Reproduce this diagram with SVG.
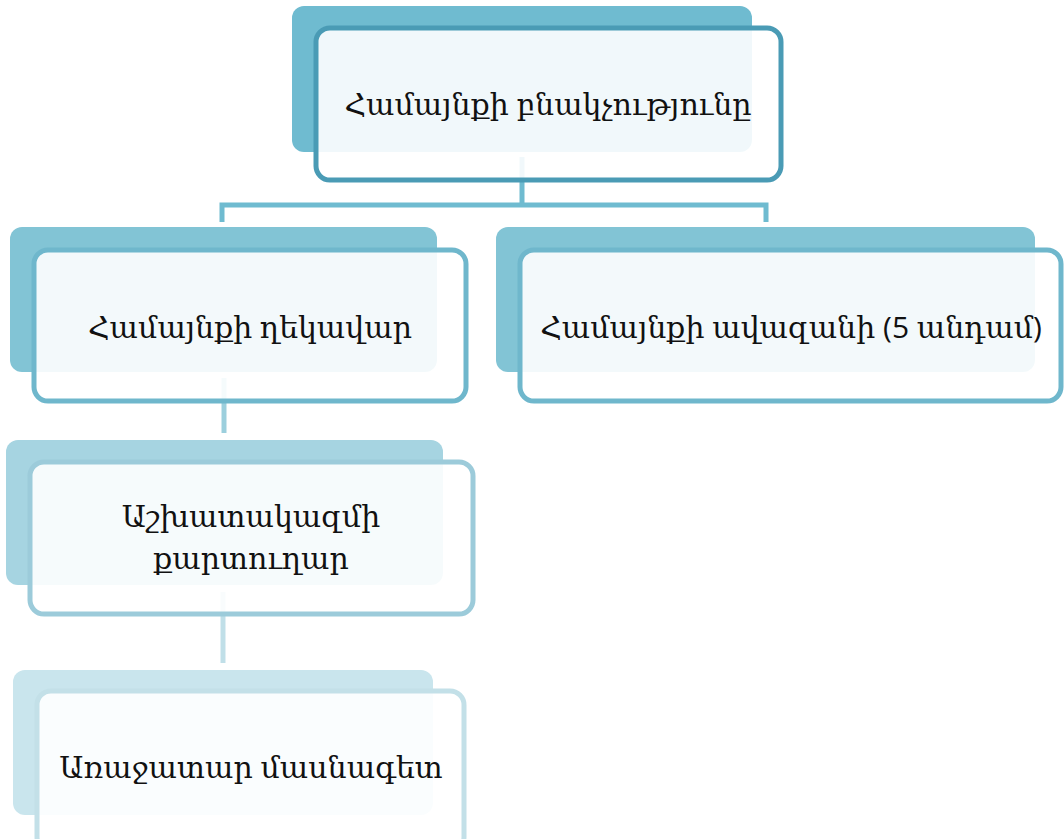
<svg xmlns="http://www.w3.org/2000/svg" width="1064" height="839" viewBox="0 0 1064 839">
<style>
.front{fill:#ffffff;fill-opacity:0.9;stroke-width:5}
.t{font-family:"Open Sans","DejaVu Serif",serif;font-size:30px;fill:#111;text-anchor:middle}
.c{fill:none;stroke-width:5}
</style>
<rect width="1064" height="839" fill="#ffffff"/>
<g id="connectors">
<path class="c" d="M522 157 V205 M222 222 V205 H766 V222" stroke="#6fbbd0"/>
<path class="c" d="M224 378 V433" stroke="#9ccfdd"/>
<path class="c" d="M223 592 V663" stroke="#c0dfe8"/>
</g>
<g id="n1">
<rect x="292" y="6" width="460" height="146" rx="12" fill="#6fbbd0"/>
<rect class="front" x="316" y="28" width="465" height="152" rx="14" stroke="#4a9bb5"/>
<text class="t" x="548" y="115">Համայնքի բնակչությունը</text>
</g>
<g id="n2">
<rect x="10" y="227" width="427" height="145" rx="12" fill="#82c4d5"/>
<rect class="front" x="34" y="250" width="432" height="151" rx="14" stroke="#6fb7cc"/>
<text class="t" x="250" y="338">Համայնքի ղեկավար</text>
</g>
<g id="n3">
<rect x="496" y="227" width="539" height="145" rx="12" fill="#82c4d5"/>
<rect class="front" x="520" y="250" width="541" height="151" rx="14" stroke="#6fb7cc"/>
<text class="t" x="791" y="338">Համայնքի ավազանի (5 անդամ)</text>
</g>
<g id="n4">
<rect x="6" y="440" width="437" height="145" rx="12" fill="#a6d4e1"/>
<rect class="front" x="30" y="462" width="443" height="152" rx="14" stroke="#9ccbda"/>
<text class="t" x="251" y="527">Աշխատակազմի</text>
<text class="t" x="251" y="569">քարտուղար</text>
</g>
<g id="n5">
<rect x="13" y="670" width="420" height="145" rx="12" fill="#c9e5ed"/>
<rect class="front" x="37" y="691" width="427" height="160" rx="14" stroke="#c3e0e8"/>
<text class="t" x="251" y="778">Առաջատար մասնագետ</text>
</g>
</svg>
